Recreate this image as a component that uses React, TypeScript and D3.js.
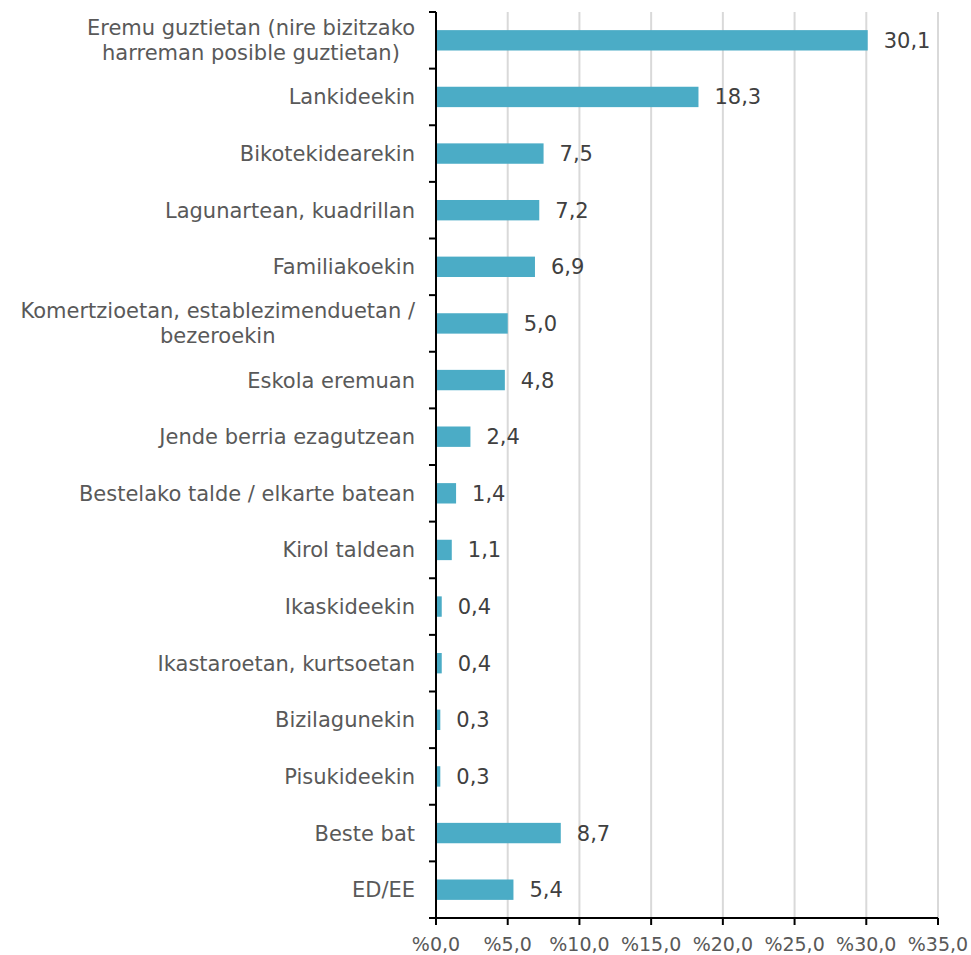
import React, { useEffect, useRef } from 'react';
import * as d3 from 'd3';

const categories = [
  'Eremu guztietan (nire bizitzako|harreman posible guztietan)',
  'Lankideekin',
  'Bikotekidearekin',
  'Lagunartean, kuadrillan',
  'Familiakoekin',
  'Komertzioetan, establezimenduetan /|bezeroekin',
  'Eskola eremuan',
  'Jende berria ezagutzean',
  'Bestelako talde / elkarte batean',
  'Kirol taldean',
  'Ikaskideekin',
  'Ikastaroetan, kurtsoetan',
  'Bizilagunekin',
  'Pisukideekin',
  'Beste bat',
  'ED/EE',
];
const values = [30.1, 18.3, 7.5, 7.2, 6.9, 5.0, 4.8, 2.4, 1.4, 1.1, 0.4, 0.4, 0.3, 0.3, 8.7, 5.4];
const xTicks = [0, 5, 10, 15, 20, 25, 30, 35];

const W = 971;
const H = 955;
const FONT = 'Verdana, "DejaVu Sans", sans-serif';

const App = () => {
  const ref = useRef<SVGSVGElement>(null);

  useEffect(() => {
    const svg = d3.select(ref.current);
    svg.selectAll('*').remove();

    const left = 436, right = 938, top = 12, bottom = 918;

    const x = d3.scaleLinear().domain([0, 35]).range([left, right]);
    const y = d3.scaleBand().domain(categories).range([top, bottom]).paddingInner(0.64).paddingOuter(0.32);
    const step = y.step();

    // gridlines
    svg.append('g')
      .selectAll('line')
      .data(xTicks.slice(1))
      .enter()
      .append('line')
      .attr('x1', d => x(d)).attr('x2', d => x(d))
      .attr('y1', top).attr('y2', bottom)
      .attr('stroke', '#d9d9d9')
      .attr('stroke-width', 2);

    // bars
    svg.append('g')
      .selectAll('rect')
      .data(values)
      .enter()
      .append('rect')
      .attr('x', x(0))
      .attr('y', (d, i) => y(categories[i])!)
      .attr('width', d => x(d) - x(0))
      .attr('height', y.bandwidth())
      .attr('fill', '#4bacc6');

    // value labels
    svg.append('g')
      .selectAll('text')
      .data(values)
      .enter()
      .append('text')
      .attr('x', d => x(d) + 16)
      .attr('y', (d, i) => y(categories[i])! + y.bandwidth() / 2)
      .attr('dy', '0.36em')
      .attr('font-family', FONT)
      .attr('font-size', 21)
      .attr('fill', '#404040')
      .text(d => d3.format('.1f')(d).replace('.', ','));

    // y axis
    svg.append('line')
      .attr('x1', left).attr('x2', left)
      .attr('y1', top).attr('y2', bottom)
      .attr('stroke', '#000').attr('stroke-width', 2);
    svg.append('g')
      .selectAll('line')
      .data(d3.range(categories.length + 1))
      .enter()
      .append('line')
      .attr('x1', left - 7).attr('x2', left)
      .attr('y1', i => top + i * step).attr('y2', i => top + i * step)
      .attr('stroke', '#000').attr('stroke-width', 2);

    // category labels
    categories.forEach(c => {
      const lines = c.split('|');
      const cy = y(c)! + y.bandwidth() / 2;
      const lh = 25;
      const g = svg.append('g');
      const texts = lines.map((l, j) =>
        g.append('text')
          .attr('x', left - 21)
          .attr('y', cy + (j - (lines.length - 1) / 2) * lh)
          .attr('dy', '0.36em')
          .attr('text-anchor', 'end')
          .attr('font-family', FONT)
          .attr('font-size', 21)
          .attr('fill', '#595959')
          .text(l)
      );
      if (lines.length > 1) {
        const widths = texts.map(t => (t.node() as SVGTextElement).getComputedTextLength());
        const mid = left - 21 - d3.max(widths)! / 2;
        texts.forEach(t => t.attr('text-anchor', 'middle').attr('x', mid));
      }
    });

    // x axis
    svg.append('line')
      .attr('x1', left - 7).attr('x2', right)
      .attr('y1', bottom).attr('y2', bottom)
      .attr('stroke', '#000').attr('stroke-width', 2);
    const xt = svg.append('g').selectAll('g').data(xTicks).enter().append('g');
    xt.append('line')
      .attr('x1', d => x(d)).attr('x2', d => x(d))
      .attr('y1', bottom).attr('y2', bottom + 7)
      .attr('stroke', '#000').attr('stroke-width', 2);
    xt.append('text')
      .attr('x', d => x(d))
      .attr('y', 944)
      .attr('dy', '0.36em')
      .attr('text-anchor', 'middle')
      .attr('font-family', FONT)
      .attr('font-size', 19)
      .attr('fill', '#595959')
      .text(d => '%' + d3.format('.1f')(d).replace('.', ','));
  }, []);

  return (
    <div style={{ position: 'fixed', left: 0, top: 0, width: W, height: H, background: '#fff', overflow: 'hidden' }}>
      <svg ref={ref} width={W} height={H} style={{ display: 'block' }} />
    </div>
  );
};

export default App;
